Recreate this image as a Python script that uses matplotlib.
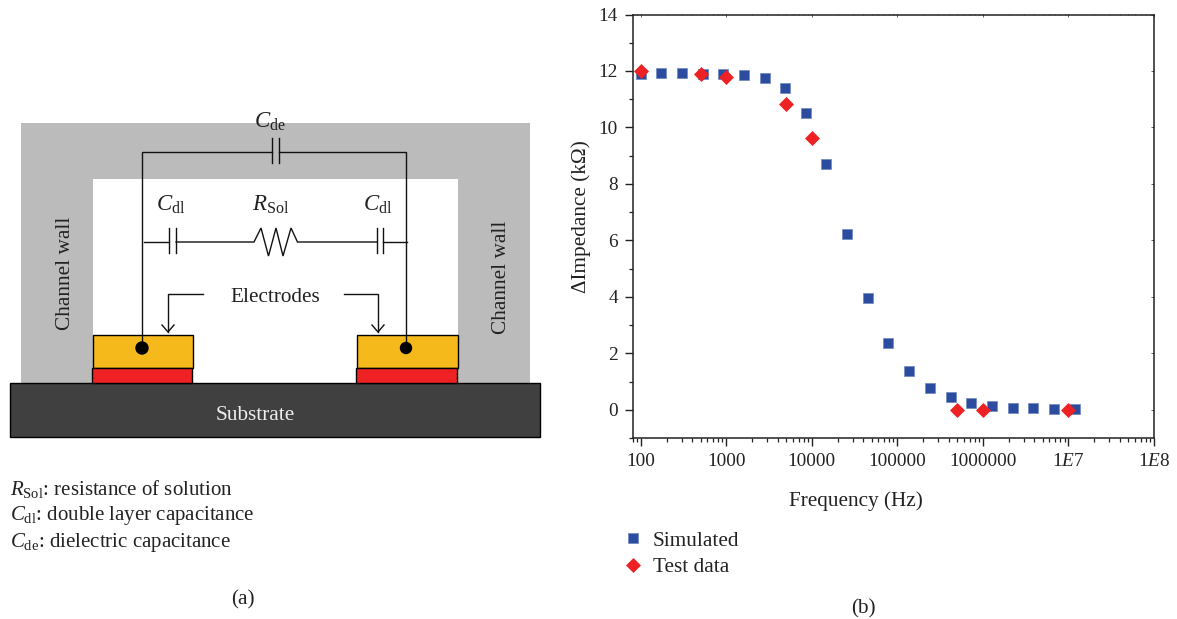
import numpy as np
import matplotlib
matplotlib.use('Agg')
from matplotlib import pyplot as plt
from matplotlib.patches import Rectangle, Circle
from matplotlib.ticker import FixedLocator, NullFormatter

plt.rcParams['font.family'] = ['Liberation Serif', 'DejaVu Serif']
plt.rcParams['mathtext.fontset'] = 'custom'
plt.rcParams['mathtext.rm'] = 'Liberation Serif'
plt.rcParams['mathtext.it'] = 'Liberation Serif:italic'
plt.rcParams['mathtext.bf'] = 'Liberation Serif:bold'

# values
sim_freq = [100, 174, 305, 530, 925, 1610, 2810, 4900, 8500, 14800, 26000,
            45000, 78000, 137000, 240000, 420000, 730000, 1270000, 2220000,
            3870000, 6750000, 11800000]
sim_imp = [11.9, 11.92, 11.92, 11.9, 11.9, 11.85, 11.75, 11.4, 10.5, 8.7, 6.22,
           3.95, 2.35, 1.37, 0.78, 0.45, 0.25, 0.13, 0.08, 0.05, 0.03, 0.02]
test_freq = [100, 500, 1000, 5000, 10000, 500000, 1000000, 10000000]
test_imp = [12.0, 11.9, 11.8, 10.83, 9.63, 0.0, 0.0, 0.0]
x_ticks = [100, 1000, 10000, 100000, 1000000, 10000000, 100000000]
x_labels = ['100', '1000', '10000', '100000', '1000000', r'1$\mathit{E}$7', r'1$\mathit{E}$8']
y_ticks = [0, 2, 4, 6, 8, 10, 12, 14]

W, H = 1177, 619
BLUE = '#2b4c9f'
RED = '#ee2224'
FS = 13.9   # tick labels
FS_TXT = 15.3   # labels
FS_NOTE = 15.0   # notes under the schematic
FS_SYM = 16.5   # circuit symbols

fig = plt.figure(figsize=(W / 100, H / 100), dpi=100)

# left panel, drawn in pixel coordinates
bg = fig.add_axes([0, 0, 1, 1])
bg.set_xlim(0, W)
bg.set_ylim(H, 0)
bg.axis('off')


def box(x0, y0, x1, y1, color, edge='none', z=1):
    bg.add_patch(Rectangle((x0, y0), x1 - x0, y1 - y0, facecolor=color,
                           edgecolor=edge, linewidth=1, zorder=z))


def wire(xs, ys, lw=1.0):
    bg.plot(xs, ys, color='#111111', lw=lw, zorder=4, solid_joinstyle='miter')


box(21, 123, 530, 383, '#bbbbbb')
box(93, 179, 458, 383, 'white', z=2)
box(10, 383, 540, 437, '#404040', edge='black', z=3)
box(93, 335, 193, 368, '#f6b91c', edge='black', z=3)
box(92, 368, 192, 383, '#ee2224', edge='black', z=3)
box(357, 335, 458, 368, '#f6b91c', edge='black', z=3)
box(356, 368, 457, 383, '#ee2224', edge='black', z=3)

# outer loop with dielectric capacitor
wire([142, 142, 271.5], [348, 152, 152])
wire([278.5, 406, 406], [152, 152, 348])
wire([271.5, 271.5], [138, 163])
wire([278.5, 278.5], [138, 163])
bg.add_patch(Circle((142, 348), 6, color='black', zorder=5))
bg.add_patch(Circle((406, 348), 5.5, color='black', zorder=5))

# solution branch
wire([144, 168.5], [242, 242])
wire([168.5, 168.5], [228, 253])
wire([176, 176], [228, 253])
wire([176, 254, 261, 268.5, 276, 283, 291, 297.5, 377],
     [242, 242, 228, 256, 228, 256, 228, 242, 242])
wire([377, 377], [228, 253])
wire([383, 383], [228, 253])
wire([383, 407], [242, 242])

# electrode pointers
wire([202.5, 168, 168], [294, 294, 332])
wire([343.5, 378, 378], [294, 294, 332])
wire([162, 168, 174], [325, 332, 325])
wire([372, 378, 384], [325, 332, 325])

txt = dict(fontsize=FS_TXT, ha='center', va='center', color='#222222', zorder=6)
sym = dict(fontsize=FS_SYM, ha='center', va='center', color='#222222', zorder=6)
bg.text(275, 297, 'Electrodes', **txt)
bg.text(65, 273, 'Channel wall', rotation=90, **txt)
bg.text(501, 277, 'Channel wall', rotation=90, **txt)
bg.text(255, 415, 'Substrate', fontsize=FS_TXT, ha='center', va='center', color='#eeeeee', zorder=6)
bg.text(270, 122, r'$\mathit{C}_{\mathrm{de}}$', **sym)
bg.text(171, 205, r'$\mathit{C}_{\mathrm{dl}}$', **sym)
bg.text(271, 205, r'$\mathit{R}_{\mathrm{Sol}}$', **sym)
bg.text(378, 205, r'$\mathit{C}_{\mathrm{dl}}$', **sym)

note = dict(fontsize=FS_NOTE, ha='left', va='center', color='#222222')
bg.text(10, 489, r'$\mathit{R}_{\mathrm{Sol}}$: resistance of solution', **note)
bg.text(10, 515.5, r'$\mathit{C}_{\mathrm{dl}}$: double layer capacitance', **note)
bg.text(10, 543, r'$\mathit{C}_{\mathrm{de}}$: dielectric capacitance', **note)
bg.text(243, 600, '(a)', **txt)
bg.text(863, 609, '(b)', **txt)

# right panel
left, right, top, bottom = 632.5, 1154, 14.5, 438
ax = fig.add_axes([left / W, 1 - bottom / H, (right - left) / W, (bottom - top) / H])
ax.set_xscale('log')
ax.set_xlim(80, 1e8)
ax.set_ylim(-1, 14)

ax.plot(sim_freq, sim_imp, ls='none', marker='s', ms=7.6, color=BLUE,
        markeredgecolor='#6f86c0', markeredgewidth=0.5, label='Simulated', zorder=3)
ax.plot(test_freq, test_imp, ls='none', marker='D', ms=7.6, color=RED,
        markeredgecolor=RED, markeredgewidth=0.5, label='Test data', zorder=4)

minor_x = [m * 10.0 ** e for e in range(1, 8) for m in range(2, 10) if 80 <= m * 10.0 ** e < 1e8]
ax.xaxis.set_major_locator(FixedLocator(x_ticks))
ax.set_xticklabels(x_labels)
ax.xaxis.set_minor_locator(FixedLocator(minor_x))
ax.xaxis.set_minor_formatter(NullFormatter())
ax.set_yticks(y_ticks)
ax.yaxis.set_minor_locator(FixedLocator(range(-1, 15, 2)))

ax.tick_params(axis='both', which='major', labelsize=FS, length=5.5, width=1.0,
               direction='out', colors='#222222', pad=5)
ax.tick_params(axis='both', which='minor', length=3, width=0.9, direction='out', colors='#222222')
for s in ax.spines.values():
    s.set_linewidth(1.1)
    s.set_color('#222222')

# top and right ticks sit on the inside and are much shorter
sec_x = ax.secondary_xaxis('top')
sec_x.set_xticks(x_ticks)
sec_x.set_xticklabels([])
sec_x.xaxis.set_minor_locator(FixedLocator(minor_x))
sec_x.xaxis.set_minor_formatter(NullFormatter())
sec_x.tick_params(which='major', direction='in', length=2, width=0.6, colors='#444444')
sec_x.tick_params(which='minor', direction='in', length=1, width=0.5, colors='#444444')
sec_x.spines['top'].set_visible(False)
sec_y = ax.secondary_yaxis('right')
sec_y.set_yticks(y_ticks)
sec_y.set_yticklabels([])
sec_y.tick_params(which='major', direction='in', length=2, width=0.6, colors='#444444')
sec_y.spines['right'].set_visible(False)

ax.set_xlabel('Frequency (Hz)', fontsize=FS_TXT, color='#222222')
ax.xaxis.set_label_coords((856 - left) / (right - left), -(501 - bottom) / (bottom - top), ax.transAxes)
ax.xaxis.get_label().set_va('center')
ax.set_ylabel('\u0394Impedance (k\u03a9)', fontsize=FS_TXT, color='#222222')
ax.yaxis.set_label_coords(-(left - 581) / (right - left), (bottom - 217) / (bottom - top), ax.transAxes)
ax.yaxis.get_label().set_va('center')

leg = ax.legend(loc='upper left', bbox_to_anchor=(620 / W, 1 - 531 / H),
                bbox_transform=fig.transFigure, frameon=False, fontsize=FS_TXT,
                borderpad=0, borderaxespad=0, handlelength=1.2, handletextpad=0.33,
                labelspacing=0.3, labelcolor='#222222')

fig.savefig('out.png', dpi=100)
